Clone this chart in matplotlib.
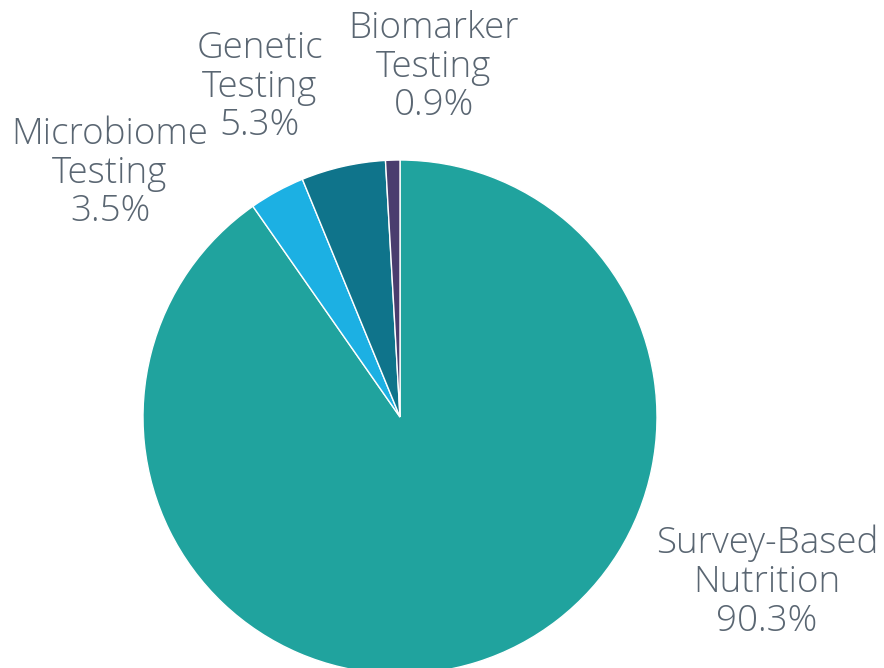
import matplotlib
matplotlib.use("Agg")
import matplotlib.pyplot as plt

categories = ["Survey-Based\nNutrition", "Microbiome\nTesting", "Genetic\nTesting", "Biomarker\nTesting"]
values = [90.3, 3.5, 5.3, 0.9]
colors = ["#20A39E", "#1CB0E3", "#0F748B", "#4A3D6E"]
label_pos = [(767, 582), (110, 173), (260, 87), (434, 67)]

W, H = 884, 668
fig = plt.figure(figsize=(W / 100, H / 100), dpi=100)
ax = fig.add_axes([0, 0, 1, 1])

ax.pie(values, colors=colors, startangle=90, counterclock=False,
       center=(400, H - 417), radius=257,
       wedgeprops=dict(edgecolor="white", linewidth=1))

ax.set_xlim(0, W)
ax.set_ylim(0, H)
ax.set_aspect("equal")
ax.axis("off")

for cat, v, (x, y) in zip(categories, values, label_pos):
    ax.text(x, H - y, f"{cat}\n{v:.1f}%", ha="center", va="center",
            fontsize=26.5, color="#5A6672", family="Open Sans", fontweight="light",
            linespacing=1.07)

fig.savefig("out.png", dpi=100)
